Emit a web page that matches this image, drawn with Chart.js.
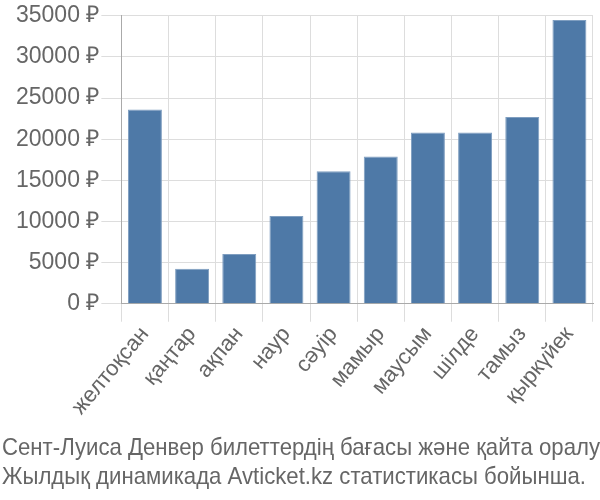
<!DOCTYPE html>
<html>
<head>
<meta charset="utf-8">
<script src="https://cdn.jsdelivr.net/npm/chart.js@4/dist/chart.umd.min.js"></script>
<style>
    html, body { margin: 0; padding: 0; background: #fff; }
    #wrap { width: 600px; height: 500px; }
</style>
</head>
<body>
<div id="wrap"><canvas id="priceChart"></canvas></div>
<script>
var months = ['желтоқсан', 'қаңтар', 'ақпан', 'наур', 'сәуір', 'мамыр', 'маусым', 'шілде', 'тамыз', 'қыркүйек'];
var prices = [23600, 4250, 6050, 10650, 16100, 17900, 20800, 20800, 22700, 34500];
var captionLines = ['Сент-Луиса Денвер билеттердің бағасы және қайта оралу', 'Жылдық динамикада Avticket.kz статистикасы бойынша.'];

// caption under the chart, squeezed a bit so the long line fits the width
var captionPlugin = {
    id: 'caption',
    afterDraw: function (chart) {
        var c = chart.ctx;
        c.save();
        c.font = '24px "Liberation Sans"';
        c.fillStyle = '#666';
        c.textBaseline = 'alphabetic';
        var w = c.measureText(captionLines[0]).width;
        var sx = Math.min(1, 598 / w);
        c.scale(sx, 1);
        c.fillText(captionLines[0], 2 / sx, 455);
        c.fillText(captionLines[1], 2 / sx, 484);
        c.restore();
    }
};

try {
    var ctx = document.getElementById('priceChart');
    if (ctx) {
        var myChart = new Chart(ctx, {
            type: 'bar',
            data: {
                labels: months,
                datasets: [{
                    data: prices,
                    backgroundColor: '#4e79a7',
                    borderColor: '#7f9ec0',
                    borderWidth: 1,
                    barPercentage: 0.72,
                    categoryPercentage: 1
                }]
            },
            options: {
                responsive: true,
                maintainAspectRatio: false,
                animation: false,
                layout: { padding: { left: 14, right: 7, top: 13, bottom: 80 } },
                plugins: {
                    legend: { display: false },
                    tooltip: { enabled: false }
                },
                scales: {
                    x: {
                        grid: { color: '#ddd', tickLength: 18, offset: true },
                        border: { color: '#aaa' },
                        ticks: {
                            color: '#666',
                            font: { family: 'Liberation Sans', size: 22 },
                            minRotation: 50,
                            maxRotation: 50,
                            padding: 0
                        }
                    },
                    y: {
                        min: 0,
                        max: 35000,
                        grid: { color: '#ddd', tickLength: 20 },
                        border: { color: '#aaa' },
                        ticks: {
                            stepSize: 5000,
                            color: '#666',
                            font: { family: 'Liberation Sans', size: 23 },
                            padding: 2,
                            callback: function (v) { return v + ' ₽'; }
                        }
                    }
                }
            },
            plugins: [captionPlugin]
        });
    }
} catch (error) {
    console.log(error);
}
</script>
</body>
</html>
